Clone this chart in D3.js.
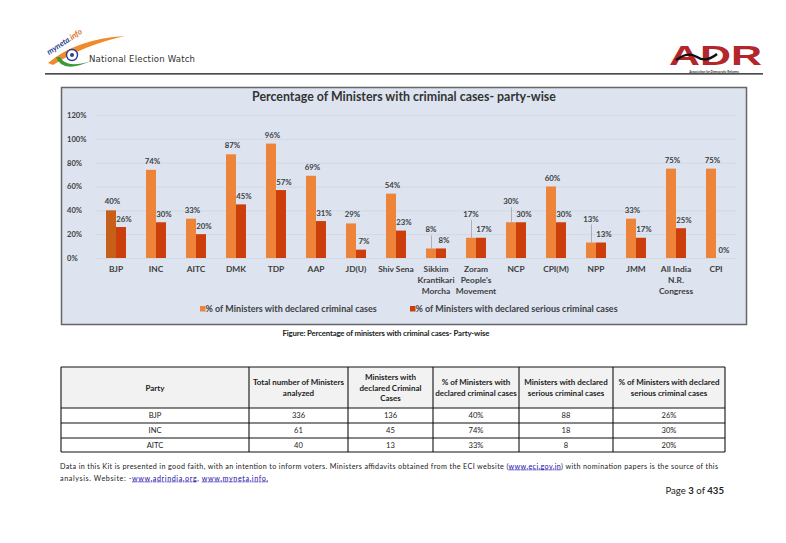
<!DOCTYPE html>
<html>
<head>
<meta charset="utf-8">
<script src="https://cdn.jsdelivr.net/npm/d3@7"></script>
<style>
body { margin: 0; background: #fff; }
svg { display: block; font-family: Lato, "Open Sans", sans-serif; }
</style>
</head>
<body>
<svg id="page" width="786" height="543"></svg>
<script>
// chart data
const parties = ['BJP', 'INC', 'AITC', 'DMK', 'TDP', 'AAP', 'JD(U)', 'Shiv Sena', 'Sikkim Krantikari Morcha',
    "Zoram People's Movement", 'NCP', 'CPI(M)', 'NPP', 'JMM', 'All India N.R. Congress', 'CPI'];
const declared = [40, 74, 33, 87, 96, 69, 29, 54, 8, 17, 30, 60, 13, 33, 75, 75];
const serious = [26, 30, 20, 45, 57, 31, 7, 23, 8, 17, 30, 30, 13, 17, 25, 0];
const seriesNames = ['% of Ministers with declared criminal cases', '% of Ministers with declared serious criminal cases'];
const yTicks = [0, 20, 40, 60, 80, 100, 120];

// table data
const tableHeads = [['Party'], ['Total number of Ministers', 'analyzed'], ['Ministers with', 'declared Criminal', 'Cases'],
    ['% of Ministers with', 'declared criminal cases'], ['Ministers with declared', 'serious criminal cases'],
    ['% of Ministers with declared', 'serious criminal cases']];
const tableParty = ['BJP', 'INC', 'AITC'];
const tableTotal = [336, 61, 40];
const tableCriminal = [136, 45, 13];
const tablePctCriminal = ['40%', '74%', '33%'];
const tableSerious = [88, 18, 8];
const tablePctSerious = ['26%', '30%', '20%'];

////////////////////////////////////////////////////////
const svg = d3.select('#page');
const ink = '#404040';
const orange = '#ee843a', red = '#cc3f0c', bjpOrange = '#c65f17';

// ---------- page header ----------
const head = svg.append('g');
head.append('path').attr('d', 'M48,63 Q76,39 125,36 Q84,45 53,65 Z').attr('fill', '#f08a2c');
head.append('path').attr('d', 'M56,57 Q62,74 91,61 Q66,69 60,57 Z').attr('fill', '#3a9a3a');
head.append('circle').attr('cx', 72).attr('cy', 55).attr('r', 5.5).attr('fill', '#fff').attr('stroke', '#2b3f8c').attr('stroke-width', 1.4);
head.append('circle').attr('cx', 72).attr('cy', 55).attr('r', 2).attr('fill', '#2b3f8c');
head.append('text').attr('transform', 'translate(49,55) rotate(-33)')
    .style('font-size', '8px').style('font-weight', 'bold').style('font-style', 'italic').attr('fill', '#2b3f8c')
    .text('myneta').append('tspan').attr('fill', '#e0701c').text('.info');
head.append('text').attr('x', 89).attr('y', 62).attr('textLength', 106)
    .style('font-family', '"DejaVu Sans Condensed", "DejaVu Sans"').style('font-size', '9.5px').attr('fill', '#333')
    .text('National Election Watch');
head.append('text').attr('x', 669).attr('y', 64.5).attr('textLength', 93).attr('lengthAdjust', 'spacingAndGlyphs')
    .style('font-family', '"Liberation Sans", Arial').style('font-size', '28px').style('font-weight', 'bold')
    .attr('fill', '#b3262b').text('ADR');
head.append('path').attr('d', 'M676,60 Q688,51 697,57 Q706,63 717,54').attr('fill', 'none').attr('stroke', '#111').attr('stroke-width', 2.4);
head.append('text').attr('x', 714).attr('y', 72.6).attr('text-anchor', 'middle').style('font-size', '3.1px')
    .style('font-weight', 'bold').attr('fill', '#333').text('Association for Democratic Reforms');
head.append('line').attr('x1', 45).attr('x2', 763).attr('y1', 73.8).attr('y2', 73.8).attr('stroke', '#111').attr('stroke-width', 1.3);

// ---------- chart ----------
const chart = svg.append('g');
chart.append('rect').attr('x', 61.5).attr('y', 87.5).attr('width', 685).attr('height', 237)
    .attr('fill', '#dde4f0').attr('stroke', '#666').attr('stroke-width', 1.5);

chart.append('text').attr('x', 404).attr('y', 101).attr('text-anchor', 'middle')
    .style('font-size', '12.4px').style('font-weight', 'bold').attr('fill', '#333')
    .text('Percentage of Ministers with criminal cases- party-wise');

const x = d3.scaleBand().domain(parties).range([96, 736]);
const xs = d3.scaleBand().domain(['declared', 'serious']).range([10, 30]);
const y = d3.scaleLinear().domain([0, 120]).range([258, 115]);

// gridlines
chart.append('g').selectAll('line').data(yTicks).enter().append('line')
    .attr('x1', 96).attr('x2', 736).attr('y1', d => y(d) + 0.5).attr('y2', d => y(d) + 0.5)
    .attr('stroke', '#cfd5df').attr('stroke-width', 0.8);

// y axis
const yAxis = chart.append('g').attr('transform', 'translate(67,0)')
    .call(d3.axisLeft(y).tickValues(yTicks).tickSize(0).tickFormat(d => d + '%'));
yAxis.select('.domain').remove();
yAxis.selectAll('text').attr('x', 0).attr('text-anchor', 'start')
    .style('font-family', 'Lato').style('font-size', '7.6px').style('font-weight', 'bold').attr('fill', ink);

// x axis
const xAxis = chart.append('g').attr('transform', 'translate(0,258)')
    .call(d3.axisBottom(x).tickSize(0));
xAxis.select('.domain').remove();
xAxis.selectAll('text').attr('y', 14).attr('dy', 0)
    .style('font-family', 'Lato').style('font-size', '8.4px').style('font-weight', 'bold').attr('fill', ink)
    .call(wrap, 40);

const rows = parties.map((p, i) => ({party: p, declared: declared[i], serious: serious[i]}));

// bars
const groups = chart.append('g').selectAll('g').data(rows).enter().append('g')
    .attr('transform', d => 'translate(' + x(d.party) + ',0)');
groups.append('rect')
    .attr('x', xs('declared')).attr('width', xs.bandwidth())
    .attr('y', d => y(d.declared)).attr('height', d => y(0) - y(d.declared))
    .attr('fill', d => d.party === 'BJP' ? bjpOrange : orange);
groups.append('rect')
    .attr('x', xs('serious')).attr('width', xs.bandwidth())
    .attr('y', d => y(d.serious)).attr('height', d => y(0) - y(d.serious))
    .attr('fill', red);

// data labels, some lifted with a leader line
const lifted = {'Sikkim Krantikari Morcha': 10, "Zoram People's Movement": 15, 'NCP': 12, 'NPP': 15};
const labelStyle = sel => sel.attr('text-anchor', 'middle').style('font-size', '7.8px')
    .style('font-weight', 'bold').attr('fill', ink);

groups.append('text')
    .attr('x', d => xs('declared') + xs.bandwidth() / 2 + (lifted[d.party] ? 0 : 1.5))
    .attr('y', d => y(d.declared) - 6 - (lifted[d.party] || 0))
    .text(d => d.declared + '%').call(labelStyle);
groups.filter(d => lifted[d.party]).append('line')
    .attr('x1', xs('declared') + xs.bandwidth() / 2 + 0.5).attr('x2', xs('declared') + xs.bandwidth() / 2 + 0.5)
    .attr('y1', d => y(d.declared) - 3 - lifted[d.party]).attr('y2', d => y(d.declared))
    .attr('stroke', '#999').attr('stroke-width', 0.7);
groups.append('text')
    .attr('x', xs('serious') + xs.bandwidth() / 2 + 3)
    .attr('y', d => y(d.serious) - 5.5)
    .text(d => d.serious + '%').call(labelStyle);

// legend
const legend = chart.append('g').selectAll('g').data(seriesNames).enter().append('g')
    .attr('transform', (d, i) => 'translate(' + [200, 410][i] + ',309)');
legend.append('rect').attr('x', 0).attr('y', -3).attr('width', 5.5).attr('height', 5.5)
    .attr('fill', (d, i) => [orange, red][i]);
legend.append('text').attr('x', 5.5).attr('y', 3.2).style('font-size', '9px').style('font-weight', 'bold')
    .attr('fill', ink).text(d => d);

svg.append('text').attr('x', 386).attr('y', 336).attr('text-anchor', 'middle').attr('textLength', 207)
    .style('font-size', '7.8px').style('font-weight', 'bold').attr('fill', '#222')
    .text('Figure: Percentage of ministers with criminal cases- Party-wise');

// ---------- table ----------
const colX = [61, 249, 348, 433, 519, 613, 725];
const rowY = [367, 408, 423, 438, 452];
const table = svg.append('g');
table.append('rect').attr('x', colX[0]).attr('y', rowY[0]).attr('width', colX[6] - colX[0]).attr('height', rowY[1] - rowY[0])
    .attr('fill', '#f2f2f2');
tableHeads.forEach((lines, c) => {
    const cx = (colX[c] + colX[c + 1]) / 2;
    const cy = (rowY[0] + rowY[1]) / 2;
    const t = table.append('text').attr('text-anchor', 'middle').style('font-size', '8px')
        .style('font-weight', 'bold').attr('fill', '#222');
    lines.forEach((ln, k) => {
        t.append('tspan').attr('x', cx).attr('y', cy + 3 + (k - (lines.length - 1) / 2) * 10.5).text(ln);
    });
});
const body = tableParty.map((p, i) => [p, tableTotal[i], tableCriminal[i], tablePctCriminal[i], tableSerious[i], tablePctSerious[i]]);
body.forEach((cells, r) => {
    cells.forEach((v, c) => {
        table.append('text').attr('x', (colX[c] + colX[c + 1]) / 2).attr('y', (rowY[r + 1] + rowY[r + 2]) / 2 + 2.7)
            .attr('text-anchor', 'middle').style('font-size', '7.6px').attr('fill', '#222').text(v);
    });
});
rowY.forEach(yy => table.append('line').attr('x1', colX[0]).attr('x2', colX[6]).attr('y1', yy).attr('y2', yy)
    .attr('stroke', '#111').attr('stroke-width', 1.1));
colX.forEach(xx => table.append('line').attr('x1', xx).attr('x2', xx).attr('y1', rowY[0]).attr('y2', rowY[4])
    .attr('stroke', '#111').attr('stroke-width', 1.1));

// ---------- footer ----------
const foot = svg.append('g').style('font-size', '7.2px').attr('fill', '#222');
const f1 = foot.append('text').attr('x', 60).attr('y', 468.5).attr('textLength', 658);
f1.append('tspan').text('Data in this Kit is presented in good faith, with an intention to inform voters. Ministers affidavits obtained from the ECI website (');
f1.append('tspan').attr('fill', '#1a0dab').style('text-decoration', 'underline').text('www.eci.gov.in');
f1.append('tspan').text(') with nomination papers is the source of this');
const f2 = foot.append('text').attr('x', 60).attr('y', 480.5).attr('textLength', 208);
f2.append('tspan').text('analysis.  Website: -');
f2.append('tspan').attr('fill', '#1a0dab').style('text-decoration', 'underline').text('www.adrindia.org');
f2.append('tspan').text(', ');
f2.append('tspan').attr('fill', '#1a0dab').style('text-decoration', 'underline').text('www.myneta.info,');
const pg = svg.append('text').attr('x', 724).attr('y', 494).attr('text-anchor', 'end')
    .style('font-size', '9.6px').attr('fill', '#222');
pg.append('tspan').text('Page ');
pg.append('tspan').style('font-weight', 'bold').text('3');
pg.append('tspan').text(' of ');
pg.append('tspan').style('font-weight', 'bold').text('435');

////////////////////////////////////////////////////////
function wrap(text, width) {
    text.each(function() {
        var text = d3.select(this),
            words = text.text().split(/\s+/).reverse(),
            word,
            line = [],
            lineNumber = 0,
            lineHeight = 11, // px
            y = text.attr('y'),
            tspan = text.text(null).append('tspan').attr('x', 0).attr('y', y);
        while (word = words.pop()) {
            line.push(word);
            tspan.text(line.join(' '));
            if (tspan.node().getComputedTextLength() > width && line.length > 1) {
                line.pop();
                tspan.text(line.join(' '));
                line = [word];
                tspan = text.append('tspan').attr('x', 0).attr('y', +y + ++lineNumber * lineHeight).text(word);
            }
        }
    });
}
</script>
</body>
</html>
